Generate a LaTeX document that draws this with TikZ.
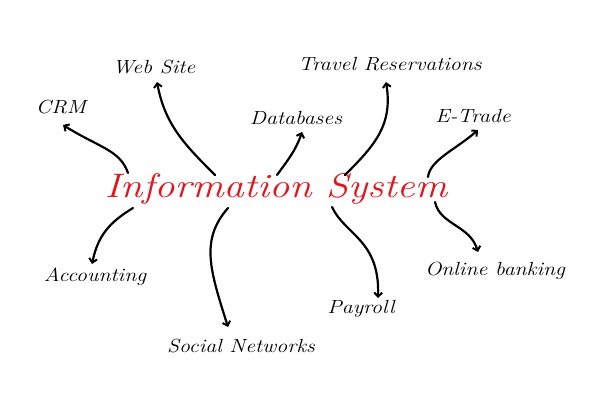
\documentclass[tikz,border=0pt]{standalone}
\usepackage{fontspec}
\usepackage{tikz}
\usetikzlibrary{arrows.meta}

\definecolor{titlered}{RGB}{228,20,28}

\begin{document}
\begin{tikzpicture}[x=1pt,y=-1pt,
		label/.style={font=\fontsize{19}{22}\selectfont\itshape, inner sep=1pt, xscale=1.15, transform shape},
		title/.style={font=\fontsize{34}{38}\selectfont\itshape, text=titlered, xscale=1.19, transform shape},
		arr/.style={line width=2.2pt, line cap=round, -{Straight Barb[length=4pt,width=8pt,line width=2pt]}}]

		\useasboundingbox (0,0) rectangle (600,406);

		% center
		\node[title] (info) at (276,189) {Information System};

		% labels, top row
		\node[label] (crm) at (61,107) {CRM};
		\node[label] (web) at (154,67) {Web Site};
		\node[label] (db) at (296,118) {Databases};
		\node[label] (travel) at (390,64) {Travel Reservations};
		\node[label] (etrade) at (473,116) {E-Trade};

		% labels, bottom row
		\node[label] (acc) at (95,277) {Accounting};
		\node[label] (social) at (241,346) {Social Networks};
		\node[label] (payroll) at (361,309) {Payroll};
		\node[label] (online) at (495,271) {Online banking};

		% start points on the title
		\coordinate (s1) at (128,173);
		\coordinate (s2) at (215,175);
		\coordinate (s3) at (277,175);
		\coordinate (s4) at (345,175);
		\coordinate (s5) at (428,177);
		\coordinate (s6) at (133,208);
		\coordinate (s7) at (228,208);
		\coordinate (s8) at (332,207);
		\coordinate (s9) at (435,202);

		% arrows up
		\draw[arr] (s1) .. controls (120,150) and (100,148) .. (63,125);
		\draw[arr] (s2) .. controls (185,145) and (165,125) .. (157,82);
		\draw[arr] (s3) .. controls (288,160) and (296,150) .. (302,132);
		\draw[arr] (s4) .. controls (375,145) and (393,125) .. (386,82);
		\draw[arr] (s5) .. controls (430,160) and (455,150) .. (478,130);

		% arrows down
		\draw[arr] (s6) .. controls (110,222) and (98,235) .. (92,264);
		\draw[arr] (s7) .. controls (200,240) and (210,270) .. (228,327);
		\draw[arr] (s8) .. controls (345,235) and (380,240) .. (378,298);
		\draw[arr] (s9) .. controls (440,225) and (470,225) .. (478,252);

	\end{tikzpicture}
\end{document}
